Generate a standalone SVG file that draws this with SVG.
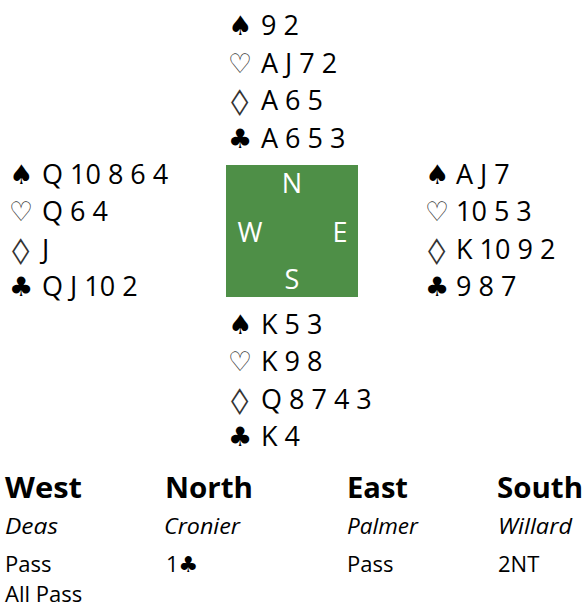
<svg xmlns="http://www.w3.org/2000/svg" width="585" height="610" viewBox="0 0 585 610">
<style>
.c{font-family:"Open Sans","Liberation Sans",sans-serif;font-size:27px;fill:#000}
.s{font-family:"DejaVu Sans",sans-serif;font-size:27px;fill:#000}
.o{font-family:"DejaVu Sans",sans-serif;font-size:27px;fill:#333}
.d{font-family:"Open Sans","Liberation Sans",sans-serif;font-size:27px;fill:#fff;text-anchor:middle}
.h{font-family:"Open Sans","Liberation Sans",sans-serif;font-size:28px;font-weight:700;fill:#000}
.n{font-family:"Open Sans","Liberation Sans",sans-serif;font-size:21px;font-style:italic;fill:#000}
.b{font-family:"Open Sans","Liberation Sans",sans-serif;font-size:22px;fill:#000}
.bs{font-family:"DejaVu Sans",sans-serif;font-size:22px;fill:#000}
</style>
<rect width="585" height="610" fill="#fff"/>
<g id="north">
<text class="s" x="228" y="35">♠</text><text class="c" x="261" y="35">9 2</text>
<text class="o" x="228" y="72.5">♡</text><text class="c" x="261" y="72.5">A J 7 2</text>
<text class="o" transform="translate(231,110) scale(1.3,0.95)">◊</text><text class="c" x="261" y="110">A 6 5</text>
<text class="s" x="228" y="147.5">♣</text><text class="c" x="261" y="147.5">A 6 5 3</text>
</g>
<g id="west">
<text class="s" x="9" y="183.5">♠</text><text class="c" x="42" y="183.5">Q 10 8 6 4</text>
<text class="o" x="9" y="221">♡</text><text class="c" x="42" y="221">Q 6 4</text>
<text class="o" transform="translate(12,258.5) scale(1.3,0.95)">◊</text><text class="c" x="42" y="258.5">J</text>
<text class="s" x="9" y="296">♣</text><text class="c" x="42" y="296">Q J 10 2</text>
</g>
<g id="compass">
<rect x="226" y="165" width="132" height="132" fill="#4e8f47"/>
<text class="d" x="292" y="193">N</text>
<text class="d" x="250" y="241.5">W</text>
<text class="d" x="340" y="241.5">E</text>
<text class="d" x="292" y="289">S</text>
</g>
<g id="east">
<text class="s" x="425" y="183.5">♠</text><text class="c" x="456" y="183.5">A J 7</text>
<text class="o" x="425" y="221">♡</text><text class="c" x="456" y="221">10 5 3</text>
<text class="o" transform="translate(428,258.5) scale(1.3,0.95)">◊</text><text class="c" x="456" y="258.5">K 10 9 2</text>
<text class="s" x="425" y="296">♣</text><text class="c" x="456" y="296">9 8 7</text>
</g>
<g id="south">
<text class="s" x="228" y="333.5">♠</text><text class="c" x="261" y="333.5">K 5 3</text>
<text class="o" x="228" y="371">♡</text><text class="c" x="261" y="371">K 9 8</text>
<text class="o" transform="translate(231,408.5) scale(1.3,0.95)">◊</text><text class="c" x="261" y="408.5">Q 8 7 4 3</text>
<text class="s" x="228" y="446">♣</text><text class="c" x="261" y="446">K 4</text>
</g>
<g id="auction">
<text class="h" x="5" y="498" textLength="77" lengthAdjust="spacingAndGlyphs">West</text>
<text class="h" x="165" y="498" textLength="88" lengthAdjust="spacingAndGlyphs">North</text>
<text class="h" x="347" y="498" textLength="61" lengthAdjust="spacingAndGlyphs">East</text>
<text class="h" x="497" y="498" textLength="86" lengthAdjust="spacingAndGlyphs">South</text>
<text class="n" x="5" y="534" textLength="53" lengthAdjust="spacingAndGlyphs">Deas</text>
<text class="n" x="164" y="534" textLength="76" lengthAdjust="spacingAndGlyphs">Cronier</text>
<text class="n" x="347" y="534" textLength="71" lengthAdjust="spacingAndGlyphs">Palmer</text>
<text class="n" x="498" y="534" textLength="74" lengthAdjust="spacingAndGlyphs">Willard</text>
<text class="b" x="5" y="572">Pass</text>
<text class="b" x="166" y="572">1<tspan class="bs">♣</tspan></text>
<text class="b" x="347" y="572">Pass</text>
<text class="b" x="498" y="572">2NT</text>
<text class="b" x="5" y="602">All Pass</text>
</g>
</svg>
